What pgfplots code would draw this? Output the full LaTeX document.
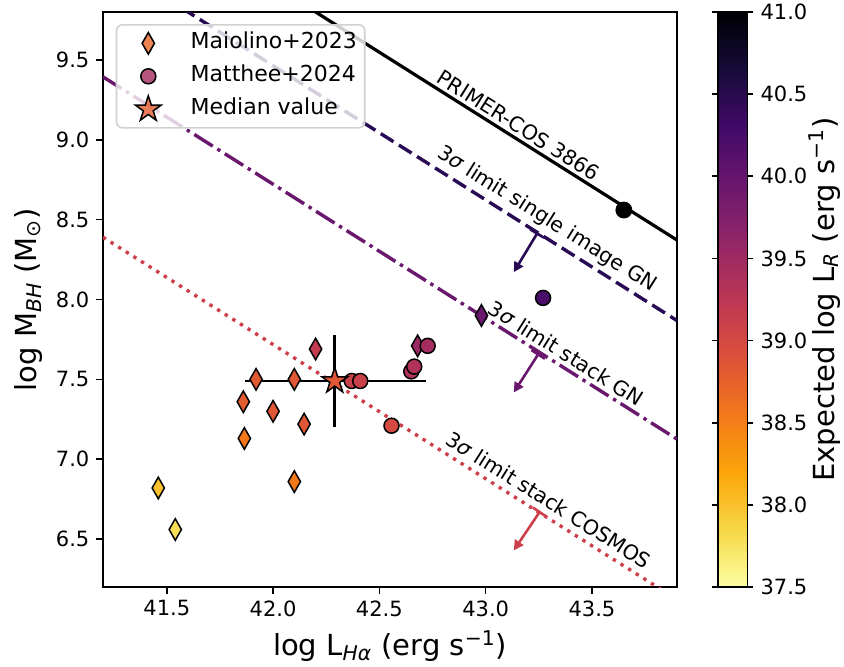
\documentclass[border=0pt]{standalone}
\usepackage{fontspec}
\setmainfont{DejaVu Sans}
\usepackage{pgfplots}
\usepackage{pgfplotstable}
\pgfplotsset{compat=1.18}
\usetikzlibrary{arrows.meta}

\definecolor{cGNsingle}{RGB}{40,11,84}
\definecolor{cGNstack}{RGB}{106,23,110}
\definecolor{cCOSMOS}{RGB}{205,64,75}
\definecolor{legMaio}{RGB}{233,103,39}
\definecolor{legMatt}{RGB}{165,45,95}
\definecolor{legStar}{RGB}{228,93,48}

% filled five-pointed star, like matplotlib's '*'
\pgfdeclareplotmark{fstar}{%
  \pgfpathmoveto{\pgfpointpolar{90}{\pgfplotmarksize}}%
  \pgfpathlineto{\pgfpointpolar{126}{0.382\pgfplotmarksize}}%
  \pgfpathlineto{\pgfpointpolar{162}{\pgfplotmarksize}}%
  \pgfpathlineto{\pgfpointpolar{198}{0.382\pgfplotmarksize}}%
  \pgfpathlineto{\pgfpointpolar{234}{\pgfplotmarksize}}%
  \pgfpathlineto{\pgfpointpolar{270}{0.382\pgfplotmarksize}}%
  \pgfpathlineto{\pgfpointpolar{306}{\pgfplotmarksize}}%
  \pgfpathlineto{\pgfpointpolar{342}{0.382\pgfplotmarksize}}%
  \pgfpathlineto{\pgfpointpolar{18}{\pgfplotmarksize}}%
  \pgfpathlineto{\pgfpointpolar{54}{0.382\pgfplotmarksize}}%
  \pgfpathclose
  \pgfusepathqfillstroke
}

% reversed inferno
\pgfplotsset{
  colormap={infernor}{rgb255=(252,255,164) rgb255=(246,215,70) rgb255=(252,165,10)
    rgb255=(243,120,25) rgb255=(221,81,58) rgb255=(188,55,84) rgb255=(147,38,103)
    rgb255=(106,23,110) rgb255=(66,10,104) rgb255=(22,11,57) rgb255=(0,0,4)},
  tick label style={font=\fontsize{10.5}{12}\selectfont},
  label style={font=\fontsize{14.5}{17}\selectfont},
  /pgf/number format/assume math mode=true,
}

% log L_Halpha, log M_BH, expected log L_R
\pgfplotstableread{
x y lr
41.46 6.82 38.00
41.54 6.56 37.78
41.86 7.36 38.80
41.865 7.13 38.55
41.92 7.50 38.83
42.00 7.30 38.85
42.10 6.86 38.55
42.10 7.50 38.85
42.146 7.22 38.85
42.20 7.69 39.18
42.68 7.71 39.53
42.98 7.90 39.95
}\maiolino

\pgfplotstableread{
x y lr
42.37 7.49 39.10
42.41 7.49 39.12
42.557 7.21 39.00
42.65 7.55 39.35
42.664 7.58 39.35
42.727 7.71 39.45
43.27 8.01 40.23
}\matthee

\begin{document}
\begin{tikzpicture}
\begin{axis}[
  scale only axis, width=287pt, height=287.5pt,
  xmin=41.2, xmax=43.9, ymin=6.2, ymax=9.8,
  xtick={41.5,42,42.5,43,43.5}, ytick={6.5,7,7.5,8,8.5,9,9.5},
  xticklabel style={/pgf/number format/.cd, fixed, fixed zerofill, precision=1},
  yticklabel style={/pgf/number format/.cd, fixed, fixed zerofill, precision=1},
  tick align=outside, tick pos=left, major tick length=3.3pt,
  tick style={black, line width=0.8pt},
  axis line style={line width=0.8pt},
  xlabel={log L\textsubscript{\textit{Hα}} (erg s\textsuperscript{−1})},
  ylabel={log M\textsubscript{\textit{BH}} (M\textsubscript{⊙})},
  colormap name=infernor, point meta min=37.5, point meta max=41,
  colorbar,
  colorbar style={
    scale only axis, width=14.7pt, height=287.5pt,
    at={(parent axis.north east)}, anchor=north west, xshift=12pt,
    ytick={37.5,38,38.5,39,39.5,40,40.5,41},
    yticklabel style={/pgf/number format/.cd, fixed, fixed zerofill, precision=1},
    yticklabel pos=right,
    ylabel={Expected log L\textsubscript{\textit{R}} (erg s\textsuperscript{−1})},
    ylabel style={at={([xshift=38.5pt]rel axis cs:1,0.5)}, anchor=center, rotate=0},
    tick align=outside, major tick length=3pt,
    tick style={black, line width=0.8pt},
    axis line style={line width=0.8pt},
  },
  legend image code/.code={\path (0pt,0pt) (30pt,0pt); \draw[#1, overlay] plot coordinates {(11.5pt,0pt)};},
  legend cell align=left,
  legend style={at={(rel axis cs:0,1)}, anchor=north west, xshift=6.35pt, yshift=-6pt,
    draw=black!18, line width=0.8pt, rounded corners=3pt, fill=white, fill opacity=0.8,
    text opacity=1, inner xsep=4pt, inner ysep=4pt, row sep=6pt, column sep=2.3pt,
    font=\fontsize{11}{13}\selectfont,
    nodes={inner sep=0pt, text height=8pt, text depth=2.5pt}},
]
\addlegendimage{only marks, mark=diamond*, mark size=5.4pt, mark options={xscale=0.76, fill=legMaio, draw=black, line width=0.75pt}}
\addlegendentry{Maiolino+2023}
\addlegendimage{only marks, mark=*, mark size=3.75pt, mark options={fill=legMatt, draw=black, line width=0.75pt}}
\addlegendentry{Matthee+2024}
\addlegendimage{only marks, mark=fstar, mark size=6.75pt, mark options={fill=legStar, draw=black, line width=0.75pt}}
\addlegendentry{Median value}

% limit lines
\addplot[black, line width=1.6pt, forget plot] coordinates {(42.0,9.968) (43.9,8.372)};
\addplot[cGNsingle, line width=1.7pt, dash pattern=on 7.5pt off 3.2pt, forget plot] coordinates {(41.4,9.968) (43.9,7.868)};
\addplot[cGNstack, line width=1.7pt, dash pattern=on 10.9pt off 2.7pt on 1.7pt off 2.7pt, forget plot] coordinates {(41.2,9.394) (43.9,7.126)};
\addplot[cCOSMOS, line width=1.7pt, dash pattern=on 1.7pt off 2.8pt, forget plot] coordinates {(41.2,8.39) (43.9,6.122)};

% median error bars
\addplot[black, line width=1.4pt, forget plot] coordinates {(41.87,7.49) (42.72,7.49)};
\addplot[black, line width=1.4pt, forget plot] coordinates {(42.29,7.20) (42.29,7.78)};

\addplot[scatter, only marks, point meta=explicit, mark=diamond*, mark size=5.4pt,
  mark options={xscale=0.76, line width=0.75pt},
  scatter/use mapped color={draw=black, fill=mapped color}, forget plot]
  table[x=x, y=y, meta=lr]{\maiolino};
\addplot[scatter, only marks, point meta=explicit, mark=*, mark size=3.75pt,
  mark options={line width=0.75pt},
  scatter/use mapped color={draw=black, fill=mapped color}, forget plot]
  table[x=x, y=y, meta=lr]{\matthee};
\addplot[scatter, only marks, point meta=explicit, mark=fstar, mark size=6.75pt,
  mark options={line width=0.75pt},
  scatter/use mapped color={draw=black, fill=mapped color}, forget plot]
  coordinates {(42.29,7.49) [38.85]};
\addplot[only marks, mark=*, mark size=4pt, mark options={fill=black, draw=black}, forget plot]
  coordinates {(43.65,8.56)};

% annotations
\node[rotate=-32.2, font=\fontsize{10.3}{12}\selectfont] at (axis cs:43.155,9.091) {PRIMER-COS 3866};
\node[rotate=-32.2, font=\fontsize{10.3}{12}\selectfont] at (axis cs:43.288,8.501) {3\textit{σ} limit single image GN};
\node[rotate=-32.2, font=\fontsize{10.3}{12}\selectfont] at (axis cs:43.379,7.664) {3\textit{σ} limit stack GN};
\node[rotate=-32.2, font=\fontsize{10.3}{12}\selectfont] at (axis cs:43.297,6.744) {3\textit{σ} limit stack COSMOS};

\draw[cGNsingle, line width=1.3pt, {Bar[width=8pt]}-{Triangle[length=5pt,width=5pt]}]
  (axis cs:43.245,8.42) -- (axis cs:43.132,8.171);
\draw[cGNstack, line width=1.3pt, {Bar[width=8pt]}-{Triangle[length=5pt,width=5pt]}]
  (axis cs:43.25,7.663) -- (axis cs:43.132,7.418);
\draw[cCOSMOS, line width=1.3pt, {Bar[width=8pt]}-{Triangle[length=5pt,width=5pt]}]
  (axis cs:43.257,6.676) -- (axis cs:43.132,6.429);
\end{axis}
\pgfresetboundingbox
\path[use as bounding box] (-51.5pt,-39.5pt) rectangle (370.5pt,293.5pt);
\end{tikzpicture}
\end{document}
